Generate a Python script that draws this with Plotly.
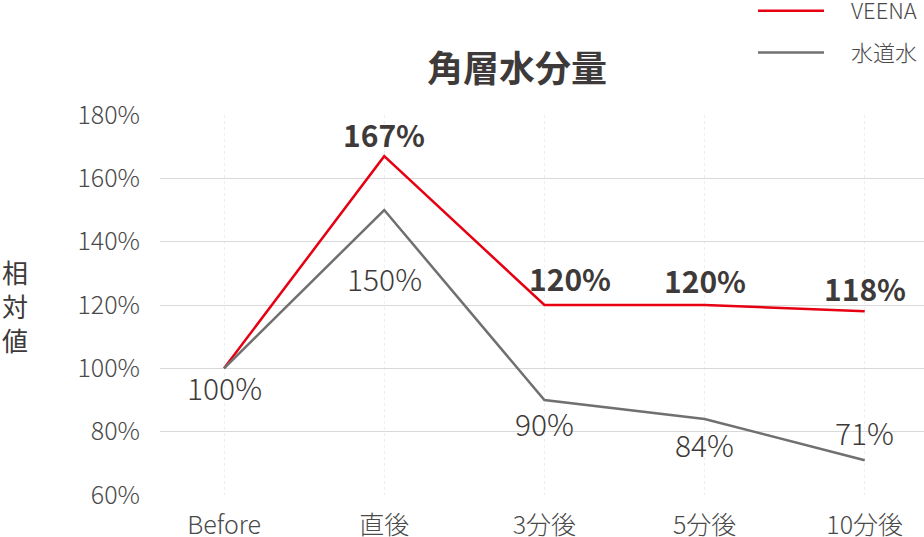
import plotly.graph_objects as go

# data
categories = ["Before", "直後", "3分後", "5分後", "10分後"]
veena = [100, 167, 120, 120, 118]
tap_water = [100, 150, 90, 84, 71]
y_ticks = [60, 80, 100, 120, 140, 160, 180]

FONT = "Noto Sans CJK JP"
RED = "#e60012"
GRAY = "#707070"
TEXT = "#3e3a39"
SUB = "#4a4a4a"

# label offsets in px (xshift, yshift) per point
veena_shift = [None, (0, 22), (26, 27), (0, 25), (0, 23)]
water_shift = [(0, -19), (0, -68), (0, -23), (0, -25), (0, 28)]

fig = go.Figure()
fig.add_trace(go.Scatter(x=categories, y=veena, name="\u2003VEENA", mode="lines",
                         legendgroup="a", line=dict(color=RED, width=2.5)))
fig.add_trace(go.Scatter(x=categories, y=tap_water, name="\u2003水道水", mode="lines",
                         legendgroup="b", line=dict(color=GRAY, width=2.5)))

annotations = []
for cat, val, sh in zip(categories, veena, veena_shift):
    if sh is None:
        continue
    annotations.append(dict(x=cat, y=val, text=f"{val}%", showarrow=False,
                            xshift=sh[0], yshift=sh[1],
                            font=dict(family=FONT, size=30, color=TEXT, weight="bold")))
for cat, val, sh in zip(categories, tap_water, water_shift):
    annotations.append(dict(x=cat, y=val, text=f"{val}%", showarrow=False,
                            xshift=sh[0], yshift=sh[1],
                            font=dict(family=FONT, size=30, color=TEXT, weight=300)))

# chart title and vertical y-axis title, placed in paper coords
top, bottom = 115, 42
plot_w = 924 - 160
plot_h = 537 - top - bottom
y0 = 537 - bottom
annotations.append(dict(x=(517 - 160) / plot_w, y=(y0 - 66) / plot_h,
                        xref="paper", yref="paper", xanchor="center", yanchor="middle",
                        text="角層水分量", showarrow=False,
                        font=dict(family=FONT, size=36, color=TEXT, weight="bold")))
annotations.append(dict(x=(15 - 160) / plot_w, y=(y0 - 305) / plot_h,
                        xref="paper", yref="paper", xanchor="center", yanchor="middle",
                        text="相<br>対<br>値", showarrow=False,
                        font=dict(family=FONT, size=26, color=TEXT)))

fig.update_layout(
    width=924, height=537,
    margin=dict(l=160, r=0, t=top, b=bottom, autoexpand=False),
    paper_bgcolor="white", plot_bgcolor="white",
    font=dict(family=FONT, color=TEXT),
    annotations=annotations,
    # legend sits partly above the page edge, as in the source image
    legend=dict(x=(753 - 160) / plot_w, y=(y0 + 10) / plot_h, xanchor="left", yanchor="top",
                font=dict(family=FONT, size=22, color=SUB, weight=300),
                itemwidth=66, tracegroupgap=10, bgcolor="rgba(0,0,0,0)"),
    xaxis=dict(range=[-0.4, 4.37], showgrid=True, gridcolor="#eeeeee", griddash="dot",
               showline=False, zeroline=False, ticks="", ticklabelstandoff=13,
               automargin=False,
               tickfont=dict(family=FONT, size=25, color=SUB, weight=300)),
    yaxis=dict(range=[60, 180], tickvals=y_ticks, ticktext=[f"{v}%" for v in y_ticks],
               showgrid=True, gridcolor="#d9d9d9", gridwidth=1, zeroline=False,
               showline=False, ticks="", ticklabelstandoff=19, automargin=False,
               tickfont=dict(family=FONT, size=25, color=SUB, weight=300)),
)

# drop the default 8px page margin so the figure sits at the window origin
fig.write_html("out.html", config={"displayModeBar": False},
               post_script="document.body.style.margin='0';")
